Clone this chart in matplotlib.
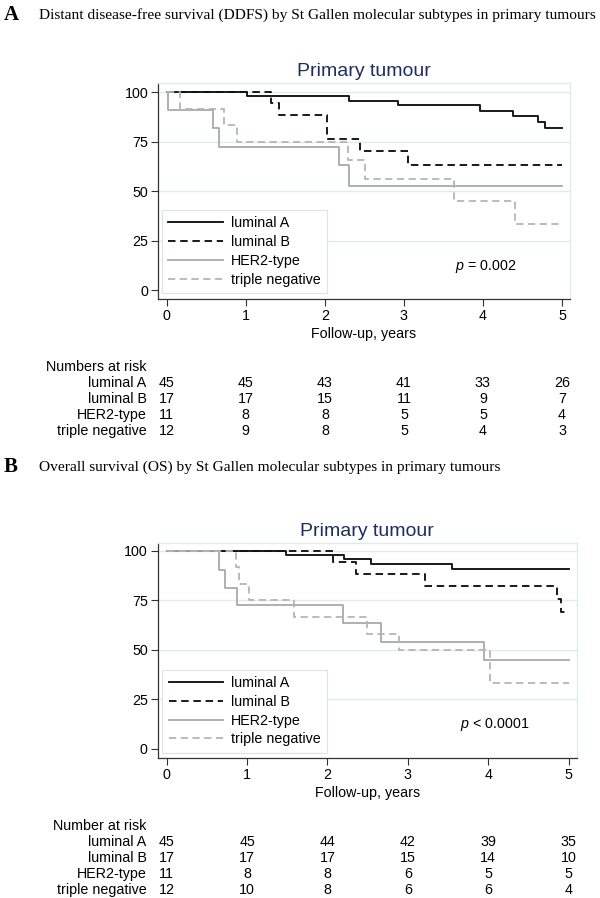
import matplotlib
matplotlib.use("Agg")
import matplotlib.pyplot as plt
from matplotlib.transforms import blended_transform_factory

plt.rcParams['font.family'] = ['Liberation Sans', 'DejaVu Sans']
plt.rcParams['mathtext.fontset'] = 'custom'
plt.rcParams['mathtext.it'] = 'Liberation Sans:italic'
plt.rcParams['mathtext.rm'] = 'Liberation Sans'

# ---------------- data ----------------
groups = ["luminal A", "luminal B", "HER2-type", "triple negative"]
years = [0, 1, 2, 3, 4, 5]

# Panel A: DDFS
ddfs_lumA_t = [0, 1.01, 2.31, 2.93, 3.96, 4.38, 4.69, 4.78, 5.0]
ddfs_lumA_s = [100, 97.8, 95.4, 93.2, 90.5, 87.7, 84.8, 81.6, 81.6]
ddfs_lumB_t = [0, 1.32, 1.42, 2.03, 2.45, 3.05, 5.0]
ddfs_lumB_s = [100, 94.3, 88.5, 76.4, 70.1, 63.3, 63.3]
ddfs_her2_t = [0, 0.02, 0.58, 0.66, 2.18, 2.31, 5.0]
ddfs_her2_s = [100, 90.9, 81.6, 72.5, 63.3, 52.7, 52.7]
ddfs_tn_t = [0, 0.17, 0.73, 0.89, 2.29, 2.51, 3.63, 4.41, 5.0]
ddfs_tn_s = [100, 91.4, 83.4, 75.0, 65.5, 56.1, 44.9, 33.4, 33.4]
ddfs_risk_lumA = [45, 45, 43, 41, 33, 26]
ddfs_risk_lumB = [17, 17, 15, 11, 9, 7]
ddfs_risk_her2 = [11, 8, 8, 5, 5, 4]
ddfs_risk_tn = [12, 9, 8, 5, 4, 3]

# Panel B: OS
os_lumA_t = [0, 1.48, 2.21, 2.54, 3.55, 5.0]
os_lumA_s = [100, 97.6, 95.6, 93.4, 90.9, 90.9]
os_lumB_t = [0, 2.07, 2.36, 3.21, 4.85, 4.91, 4.99]
os_lumB_s = [100, 94.3, 88.2, 82.3, 75.7, 68.8, 68.8]
os_her2_t = [0, 0.65, 0.72, 0.87, 2.19, 2.67, 3.95, 5.0]
os_her2_s = [100, 90.5, 81.4, 72.5, 63.3, 54.1, 45.0, 45.0]
os_tn_t = [0, 0.86, 0.90, 1.02, 1.58, 2.49, 2.89, 4.02, 5.0]
os_tn_s = [100, 91.7, 83.1, 75.0, 66.7, 58.1, 49.8, 33.1, 33.1]
os_risk_lumA = [45, 45, 44, 42, 39, 35]
os_risk_lumB = [17, 17, 17, 15, 14, 10]
os_risk_her2 = [11, 8, 8, 6, 5, 5]
os_risk_tn = [12, 10, 8, 6, 6, 4]

# ---------------- figure ----------------
W, H = 600, 898
fig = plt.figure(figsize=(W / 100, H / 100), dpi=100)

styles = [
    dict(color='#111111', ls='-', lw=1.35),
    dict(color='#111111', ls=(0, (4.0, 2.5)), lw=1.35),
    dict(color='#a9a9a9', ls='-', lw=1.3),
    dict(color='#b5b5b5', ls=(0, (4.0, 2.5)), lw=1.3),
]
GRID = '#dfeaef'
TITLE_C = '#1e2f5e'
FS = 10.3


def px_axes(l, r, t, b):
    return fig.add_axes([l / W, 1 - b / H, (r - l) / W, (b - t) / H])


def panel(ax, curves, xlim, ylim, ptext, risk, risk_head, head_y, row_ys, leg_anchor):
    for (t, s), st, name in zip(curves, styles, groups):
        ax.step(t, s, where='post', label=name, **st)
    ax.set_xlim(*xlim)
    ax.set_ylim(*ylim)
    ax.set_xticks(years)
    ax.set_yticks([0, 25, 50, 75, 100])
    for yv in [25, 50, 75, 100]:
        ax.axhline(yv, color=GRID, lw=0.9, zorder=0)
    for sp in ['top', 'right']:
        ax.spines[sp].set_color(GRID)
        ax.spines[sp].set_linewidth(0.9)
    for sp in ['left', 'bottom']:
        ax.spines[sp].set_color('#333333')
        ax.spines[sp].set_linewidth(0.9)
    ax.tick_params(axis='both', length=4.8, width=0.8, color='#333333',
                   labelsize=FS, pad=2.3)
    ax.set_xlabel("Follow-up, years", fontsize=FS, labelpad=3)
    ax.set_title("Primary tumour", fontsize=14, color=TITLE_C, pad=5)
    ax.text(3.65, 12.2, ptext, fontsize=FS, ha='left', va='center')
    leg = ax.legend(loc='lower left', bbox_to_anchor=leg_anchor, borderaxespad=0,
                    fontsize=FS, frameon=True, fancybox=False, framealpha=1,
                    edgecolor='#dde4e8', handlelength=3.8, handletextpad=0.55,
                    labelspacing=0.33, borderpad=0.45)
    leg.get_frame().set_linewidth(0.8)
    # numbers at risk table
    tr = blended_transform_factory(ax.transData, fig.transFigure)
    fig.text(146.5 / W, 1 - head_y / H, risk_head, fontsize=FS, ha='right', va='center')
    for name, vals, yy in zip(groups, risk, row_ys):
        fig.text(146.5 / W, 1 - yy / H, name, fontsize=FS, ha='right', va='center')
        for xv, v in zip(years, vals):
            ax.text(xv, 1 - yy / H, str(v), transform=tr, fontsize=FS,
                    ha='center', va='center')


# Headers
fig.text(4 / W, 1 - 15 / H, "A", fontsize=15, fontweight='bold',
         family='Liberation Serif', ha='left', va='center')
fig.text(39 / W, 1 - 15 / H,
         "Distant disease-free survival (DDFS) by St Gallen molecular subtypes in primary tumours",
         fontsize=11.05, family='Liberation Serif', ha='left', va='center')
fig.text(4 / W, 1 - 467 / H, "B", fontsize=15, fontweight='bold',
         family='Liberation Serif', ha='left', va='center')
fig.text(39 / W, 1 - 467 / H,
         "Overall survival (OS) by St Gallen molecular subtypes in primary tumours",
         fontsize=11.05, family='Liberation Serif', ha='left', va='center')

axA = px_axes(158, 570, 83, 299)
panel(axA,
      [(ddfs_lumA_t, ddfs_lumA_s), (ddfs_lumB_t, ddfs_lumB_s),
       (ddfs_her2_t, ddfs_her2_s), (ddfs_tn_t, ddfs_tn_s)],
      (-0.110, 5.101), (-4.39, 104.54), "$p$ = 0.002",
      [ddfs_risk_lumA, ddfs_risk_lumB, ddfs_risk_her2, ddfs_risk_tn],
      "Numbers at risk", 367.3, [383.3, 399.2, 415.1, 431.0], (0.0097, 0.028))

axB = px_axes(157.7, 577, 542.7, 758.3)
panel(axB,
      [(os_lumA_t, os_lumA_s), (os_lumB_t, os_lumB_s),
       (os_her2_t, os_her2_s), (os_tn_t, os_tn_s)],
      (-0.112, 5.104), (-4.85, 104.04), "$p$ < 0.0001",
      [os_risk_lumA, os_risk_lumB, os_risk_her2, os_risk_tn],
      "Number at risk", 825.7, [842.0, 858.0, 874.0, 890.0], (0.011, 0.026))

fig.savefig("out.png", dpi=100)
